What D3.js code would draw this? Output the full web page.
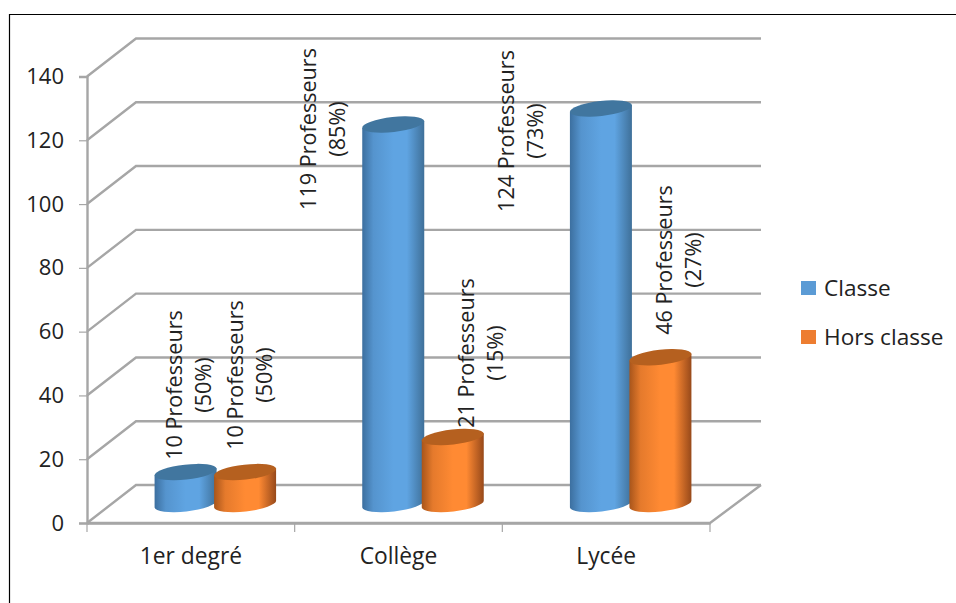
<!DOCTYPE html>
<html><head><meta charset="utf-8">
<script src="https://cdn.jsdelivr.net/npm/d3@7"></script>
<style>html,body{margin:0;padding:0;background:#fff}svg{display:block}text{font-family:"Open Sans",sans-serif;fill:#222}</style>
</head><body><svg id="c" width="956" height="603"></svg>
<script>
const categories = ["1er degré", "Collège", "Lycée"];
const seriesNames = ["Classe", "Hors classe"];
const classe = [10, 119, 124];
const horsClasse = [10, 21, 46];
const classePct = [50, 85, 73];
const horsClassePct = [50, 15, 27];
const yTicks = [0, 20, 40, 60, 80, 100, 120, 140];

// layout
const L = 87, R = 710, B = 523, T = 76.5, DX = 49, DY = 38;
const RX = 31, RY = 7.5, SKEW = 3.5, ROT = Math.atan2(-SKEW, RX) * 180 / Math.PI, RR = Math.hypot(RX, SKEW);
// hand-placed label shift from the bar centre [dx line1, label centre y] in the original
const labelShift = [
  [[-4, 385], [-2, 375]],
  [[-77, 129], [21, 353]],
  [[-87, 131], [12, 260]]
];
const palette = [
  {id:"gB", edgeL:"#3c6f9f", mid:"#5fa4e2", edgeR:"#3f7099", top:"#41769f"},
  {id:"gO", edgeL:"#a8551b", mid:"#ff8a33", edgeR:"#97491a", top:"#b5601f"}
];

const svg = d3.select("#c");
const defs = svg.append("defs");
palette.forEach(p => {
  const g = defs.append("linearGradient").attr("id", p.id).attr("x1",0).attr("x2",1).attr("y1",0).attr("y2",0);
  [[0,p.edgeL],[.18,d3.interpolateRgb(p.edgeL,p.mid)(.7)],[.5,p.mid],[.72,p.mid],[1,p.edgeR]].forEach(s =>
    g.append("stop").attr("offset",s[0]).attr("stop-color",s[1]));
});

// frame
svg.append("path").attr("d","M9.5,603V14.5H956").attr("fill","none").attr("stroke","#000").attr("stroke-width",1.2);

const y = d3.scaleLinear().domain([0,140]).range([B,T]);
const x = d3.scaleBand().domain(categories).range([L,R]);
const inner = d3.scaleBand().domain(seriesNames).range([-59.5,59.5]);

// grid
const gridCol = "#a6a6a6";
svg.append("g").selectAll("path").data(yTicks).join("path")
  .attr("d", v => `M${L},${y(v)}L${L+DX},${y(v)-DY}H${R+DX+2}`)
  .attr("fill","none").attr("stroke",gridCol).attr("stroke-width",2.4);
// floor
svg.append("path").attr("d",`M${L},${B}H${R}L${R+DX+2},${B-DY}`).attr("fill","none").attr("stroke",gridCol).attr("stroke-width",2.4);

// axes
const ay = svg.append("g").attr("transform",`translate(${L},0)`).call(d3.axisLeft(y).tickValues(yTicks).tickSize(8).tickPadding(15));
const ax = svg.append("g").attr("transform",`translate(0,${B})`)
  .call(d3.axisBottom(x).tickSize(0).tickPadding(25));
ax.append("g").selectAll("line").data([...categories.map(c=>x(c)), R]).join("line")
  .attr("x1",d=>d).attr("x2",d=>d).attr("y1",0).attr("y2",9).attr("stroke",gridCol).attr("stroke-width",1.2);
[ay,ax].forEach(a=>{
  a.selectAll(".domain").attr("stroke",gridCol).attr("stroke-width",2.4);
  a.selectAll(".tick line").attr("stroke",gridCol).attr("stroke-width",1.2);
  a.selectAll("text").attr("font-family",'"Open Sans",sans-serif').attr("fill","#222");
});
ay.selectAll("text").attr("font-size",22).attr("dy","0.32em");
ax.selectAll("text").attr("font-size",22.8);

// cylinders
const rows = categories.flatMap((c,i) => [
  {c,i,s:0,v:classe[i],p:classePct[i]},
  {c,i,s:1,v:horsClasse[i],p:horsClassePct[i]}
]);
const cx = d => x(d.c) + x.bandwidth()/2 + DX/2 + inner(seriesNames[d.s]) + inner.bandwidth()/2;
const baseY = B - 19;
const topY = d => y(d.v) - 19;
const bars = svg.append("g").selectAll("g").data(rows).join("g");
bars.append("path").attr("fill",d=>`url(#${palette[d.s].id})`).attr("d",d=>{
  const X=cx(d), t=topY(d);
  return `M${X-RX},${t+SKEW}L${X-RX},${baseY+SKEW}A${RR},${RY} ${ROT} 0 0 ${X+RX},${baseY-SKEW}L${X+RX},${t-SKEW}Z`;
});
bars.append("ellipse").attr("fill",d=>palette[d.s].top)
  .attr("cx",0).attr("cy",0).attr("rx",RR).attr("ry",RY)
  .attr("transform",d=>`translate(${cx(d)},${topY(d)}) rotate(${ROT})`);

// labels
const lab = svg.append("g").selectAll("text").data(rows).join("text")
  .attr("font-size",21.6).attr("text-anchor","middle")
  .attr("transform",d=>{
    const sh = labelShift[d.i][d.s];
    return `translate(${cx(d)+sh[0]},${sh[1]}) rotate(-90)`;
  });
lab.append("tspan").attr("x",0).attr("dy",0).text(d=>`${d.v} Professeurs`);
lab.append("tspan").attr("x",0).attr("dy",29).text(d=>`(${d.p}%)`);

// legend
const leg = d3.scaleOrdinal().domain(seriesNames).range([288,337]);
const lg = svg.append("g").selectAll("g").data(seriesNames).join("g").attr("transform",d=>`translate(801,${leg(d)})`);
lg.append("rect").attr("y",-7).attr("width",15).attr("height",14).attr("fill",(d,i)=>i?"#ed7d31":"#5b9bd5");
lg.append("text").attr("x",23).attr("dy","0.35em").attr("font-size",22.6).text(d=>d);
</script></body></html>
